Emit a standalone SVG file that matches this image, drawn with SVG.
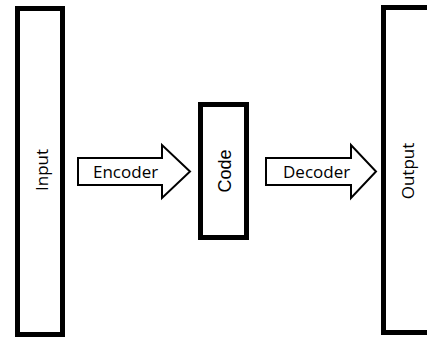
<svg xmlns="http://www.w3.org/2000/svg" width="427" height="337" viewBox="0 0 427 337">
  <style>
    .box { fill: #ffffff; stroke: #000000; stroke-width: 5; }
    .arrow { fill: #ffffff; stroke: #000000; stroke-width: 2; stroke-linejoin: miter; }
    .lbl { font-family: "Open Sans", "Noto Sans", sans-serif; font-size: 17px; fill: #000000; }
    .code { font-family: "Liberation Sans", Arial, sans-serif; font-size: 18px; fill: #000000; }
  </style>
  <rect width="427" height="337" fill="#ffffff"/>

  <!-- input layer -->
  <g id="input">
    <rect class="box" x="17.5" y="8.5" width="45" height="326"/>
    <text class="lbl" transform="translate(48,170) rotate(-90)" text-anchor="middle">Input</text>
  </g>

  <!-- bottleneck code layer -->
  <g id="code">
    <rect class="box" x="200.5" y="104.5" width="46" height="133"/>
    <text class="code" transform="translate(231,171) rotate(-90)" text-anchor="middle">Code</text>
  </g>

  <!-- output layer, running off the right edge -->
  <g id="output">
    <rect class="box" x="383.5" y="7.5" width="60" height="325"/>
    <text class="lbl" transform="translate(414,171) rotate(-90)" text-anchor="middle">Output</text>
  </g>

  <!-- block arrows between layers -->
  <g id="connectors">
    <g id="encoder">
      <polygon class="arrow" points="78,158 162,158 162,145 190,171.5 162,198 162,185 78,185"/>
      <text class="lbl" x="93" y="178">Encoder</text>
    </g>
    <g id="decoder">
      <polygon class="arrow" points="266,158 351,158 351,145 376,171.5 351,198 351,185 266,185"/>
      <text class="lbl" x="283" y="178">Decoder</text>
    </g>
  </g>
</svg>
